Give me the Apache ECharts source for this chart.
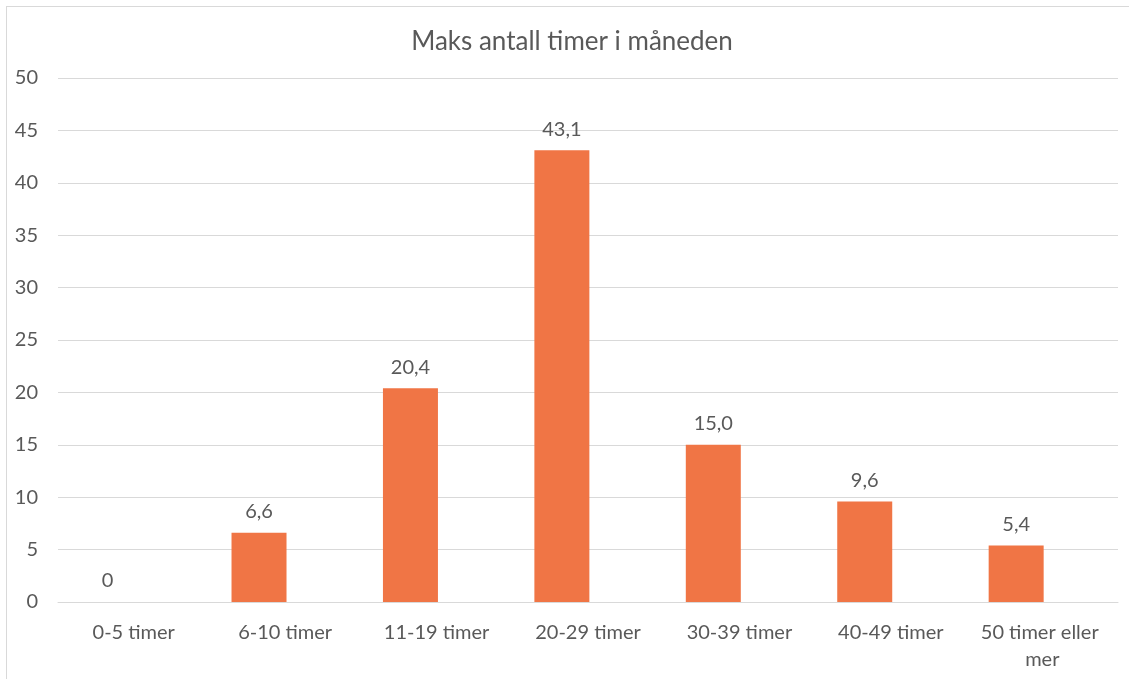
<!DOCTYPE html>
<html>
<head>
<meta charset="utf-8">
<script src="https://cdn.jsdelivr.net/npm/echarts@6/dist/echarts.min.js"></script>
<style>
  html, body { margin: 0; padding: 0; background: #fff; }
  #frame { position: absolute; left: 6px; top: 6px; width: 1200px; height: 700px;
           border-left: 1px solid #d9d9d9; border-top: 1px solid #d9d9d9; }
  #myChart { position: absolute; left: 0; top: 0; width: 1129px; height: 679px; }
</style>
</head>
<body>
<div id="frame"></div>
<div id="myChart"></div>
<script>
var categories = ['0-5 timer', '6-10 timer', '11-19 timer', '20-29 timer', '30-39 timer', '40-49 timer', '50 timer eller mer'];
var values = [0, 6.6, 20.4, 43.1, 15.0, 9.6, 5.4];
// second (empty) series from the source workbook, it keeps the bars shifted left
var emptyValues = [];
var yTicks = [0, 5, 10, 15, 20, 25, 30, 35, 40, 45, 50];

var chart = echarts.init(document.querySelector('#myChart'));
var textColor = '#595959';
var font = 'Lato, "Open Sans", sans-serif';

var option = {
    title: {
        text: 'Maks antall timer i måneden',
        left: 567,
        textAlign: 'center',
        top: 24,
        textStyle: { color: textColor, fontSize: 26, fontWeight: 'normal', fontFamily: font }
    },
    grid: { left: 58, right: 11, top: 78, bottom: 77, containLabel: false },
    xAxis: {
        type: 'category',
        data: categories,
        axisLine: { lineStyle: { color: '#d9d9d9', width: 1 } },
        axisTick: { show: false },
        axisLabel: {
            color: textColor, fontSize: 20, fontFamily: font, margin: 17,
            width: 135, overflow: 'break', lineHeight: 27, interval: 0
        }
    },
    yAxis: {
        type: 'value',
        min: yTicks[0],
        max: yTicks[yTicks.length - 1],
        interval: 5,
        axisLine: { show: false },
        axisTick: { show: false },
        splitLine: { lineStyle: { color: '#d9d9d9', width: 1 } },
        axisLabel: { color: textColor, fontSize: 20, fontFamily: font, margin: 20 }
    },
    series: [{
        type: 'bar',
        data: values,
        barWidth: 55,
        barGap: '-5%',
        itemStyle: { color: '#F07545' },
        label: {
            show: true,
            position: 'top',
            distance: 11,
            color: textColor,
            fontSize: 20,
            fontFamily: font,
            formatter: function (p) {
                return p.value === 0 ? '0' : p.value.toFixed(1).replace('.', ',');
            }
        }
    }, {
        type: 'bar',
        data: emptyValues,
        barWidth: 55
    }]
};
chart.setOption(option);
</script>
</body>
</html>
